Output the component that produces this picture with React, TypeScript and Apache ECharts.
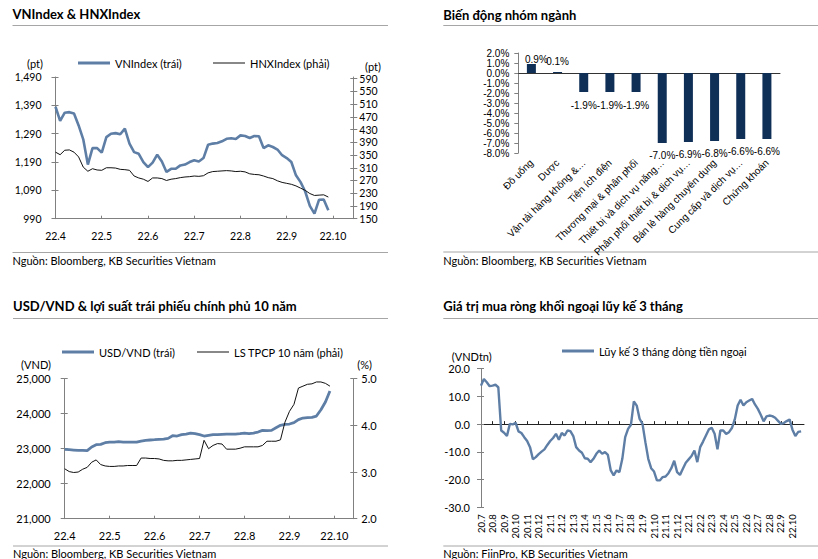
import React, { useEffect, useRef } from 'react';
import * as echarts from 'echarts';

// ---------- data ----------
const monthLabels6 = ['22.4', '22.5', '22.6', '22.7', '22.8', '22.9', '22.10'];

// VNIndex & HNXIndex, ~10 samples per month from 22.4
const vnIndex = [1385, 1335, 1364, 1366, 1361, 1319, 1270, 1181, 1239, 1239, 1223, 1278, 1290, 1292, 1288, 1308, 1255, 1225, 1219, 1190, 1172, 1188, 1216, 1192, 1155, 1166, 1166, 1178, 1181, 1190, 1196, 1192, 1204, 1251, 1255, 1257, 1263, 1272, 1274, 1271, 1284, 1282, 1275, 1282, 1281, 1239, 1249, 1243, 1234, 1214, 1204, 1190, 1143, 1119, 1086, 1035, 1008, 1057, 1058, 1020];
const hnxIndex = [359, 351, 365, 366, 359, 344, 312, 299, 307, 303, 302, 310, 310, 309, 305, 304, 302, 284, 278, 274, 267, 278, 278, 276, 270, 274, 276, 279, 281, 282, 284, 283, 285, 294, 298, 299, 300, 301, 300, 298, 299, 297, 291, 289, 288, 284, 279, 276, 269, 264, 261, 258, 253, 246, 239, 229, 223, 224, 225, 218];
const vnTicks = [990, 1090, 1190, 1290, 1390, 1490];
const hnxTicks = [150, 190, 230, 270, 310, 350, 390, 430, 470, 510, 550, 590];

// Sector performance
const sectors = ['Đồ uống', 'Dược', 'Vận tải hàng không &…', 'Tiện ích điện', 'Thương mại & phân phối', 'Thiết bị và dịch vụ năng…', 'Phân phối thiết bị & dịch vụ…', 'Bán lẻ hàng chuyên dụng', 'Cung cấp và dịch vụ…', 'Chứng khoán'];
const sectorChange = [0.9, 0.1, -1.9, -1.9, -1.9, -7.0, -6.9, -6.8, -6.6, -6.6];

// USD/VND & 10Y government bond yield
const usdVnd = [22980, 22971, 22962, 22952, 22952, 22943, 23048, 23114, 23124, 23171, 23190, 23190, 23200, 23190, 23190, 23190, 23190, 23219, 23238, 23248, 23257, 23267, 23276, 23295, 23371, 23362, 23400, 23419, 23448, 23429, 23400, 23362, 23381, 23400, 23400, 23410, 23419, 23419, 23419, 23429, 23448, 23429, 23448, 23476, 23524, 23514, 23524, 23600, 23667, 23695, 23705, 23743, 23829, 23876, 23886, 23895, 23933, 24114, 24333, 24650];
const bondYield = [3.07, 3.01, 2.99, 3.0, 3.06, 3.1, 3.21, 3.26, 3.16, 3.13, 3.12, 3.12, 3.13, 3.13, 3.14, 3.14, 3.14, 3.3, 3.3, 3.29, 3.29, 3.28, 3.25, 3.24, 3.24, 3.25, 3.25, 3.26, 3.27, 3.28, 3.29, 3.68, 3.5, 3.57, 3.61, 3.6, 3.49, 3.49, 3.49, 3.51, 3.54, 3.54, 3.54, 3.54, 3.57, 3.66, 3.66, 3.66, 3.69, 4.07, 4.3, 4.45, 4.8, 4.84, 4.88, 4.89, 4.93, 4.93, 4.9, 4.84];

// Foreign net buying, 3-month rolling, 4 samples per month from 20.7
const monthLabels28 = ['20.7', '20.8', '20.9', '20.10', '20.11', '20.12', '21.1', '21.2', '21.3', '21.4', '21.5', '21.6', '21.7', '21.8', '21.9', '21.10', '21.11', '21.12', '22.1', '22.2', '22.3', '22.4', '22.5', '22.6', '22.7', '22.8', '22.9', '22.10'];
const foreignFlow = [13.9, 16.3, 15.1, 13.7, 13.9, 14.2, 13.3, -2.3, -3.1, -4.3, 0.1, -0.1, 0.5, -2.6, -3.2, -4.7, -6.1, -8.3, -12.7, -11.9, -10.8, -9.9, -9.1, -7.5, -6.1, -5.0, -3.5, -5.6, -3.2, -4.1, -2.3, -2.5, -4.3, -8.3, -9.5, -10.3, -12.3, -12.5, -13.7, -12.5, -10.7, -9.5, -10.7, -10.1, -11.1, -16.7, -18.5, -16.7, -17.3, -12.5, -4.7, -1.7, -0.2, 8.2, 6.7, 1.9,
  0.1, -6.5, -12.5, -15.9, -17.1, -20.3, -20.3, -19.1, -18.9, -17.7, -15.9, -13.2, -17.3, -18.3, -16.1, -13.9, -12.7, -11.5, -9.5, -13.7, -8.3, -6.3, -4.1, -1.9, -1.3, -3.5, -9.1, -2.3, -2.3, -3.5, -2.9, -1.4, 1.7, 6.7, 8.8, 6.7, 7.9, 8.5, 9.1, 7.1, 5.5, 3.4, 1.0, 2.8, 3.1, 2.9, 2.3, 1.2, 0.1, 0.4, 1.1, 1.7, -2.0, -4.3, -2.8, -2.6];

// ---------- style ----------
const LATO = 'Lato';
const ARIAL = 'Liberation Sans';
const AX = '#808080';
const BLUE = '#5e7ea6';
const BAR = '#0f2f57';
const SEP = '#a6a6a6';

const SPM1 = 10; // samples per month, panels 1 & 3
const SPM4 = 4; // samples per month, panel 4

const monthTicks6 = monthLabels6.map((_, i) => i * SPM1);
const monthTicks28 = monthLabels28.map((_, i) => i * SPM4);

const fmtComma = (v: number) => Math.round(v).toLocaleString('en-US');

function hidden() {
  return { show: false };
}

function yDup(gridIndex: number, position: string, min: number, max: number, ticks: number[] | null, interval?: number) {
  const o: any = {
    type: 'value', gridIndex, position, min, max,
    axisLine: { show: false, onZero: false },
    axisTick: { show: true, inside: true, length: 3, lineStyle: { color: AX } },
    axisLabel: { show: false },
    splitLine: hidden(),
  };
  if (ticks) o.axisTick.customValues = ticks;
  if (interval) o.interval = interval;
  return o;
}

function textEl(text: string, x: number, y: number, size: number, bold = false, align = 'left', family = LATO) {
  return {
    type: 'text', x, y, silent: true,
    style: { text, fill: '#000', fontSize: size, fontFamily: family, fontWeight: bold ? 'bold' : 'normal', align, verticalAlign: 'middle' },
  };
}
function lineEl(x1: number, y1: number, x2: number, y2: number) {
  return { type: 'line', silent: true, shape: { x1, y1, x2, y2 }, style: { stroke: SEP, lineWidth: 1 } };
}

function legendOf(name: string, left: number, top: number, h: number, color: string) {
  return {
    data: [{ name, icon: 'rect', itemStyle: { color } }],
    left, top, padding: 0, itemWidth: 32, itemHeight: h, itemGap: 0,
    selectedMode: false,
    textStyle: { fontFamily: LATO, fontSize: 11, color: '#000', lineHeight: 12 },
  };
}

const option: any = {
  animation: false,
  backgroundColor: '#fff',
  legend: [
    legendOf('VNIndex (trái)', 78, 57, 3, BLUE),
    legendOf('HNXIndex (phải)', 213, 57, 1, '#111'),
    legendOf('USD/VND (trái)', 62, 346, 3, BLUE),
    legendOf('LS TPCP 10 năm (phải)', 197, 346, 1, '#111'),
    legendOf('Lũy kế 3 tháng dòng tiền ngoại', 562, 345, 3, BLUE),
  ],
  grid: [
    { left: 55.5, top: 77, right: 464.7, bottom: 340.3 },
    { left: 518.3, top: 53, right: 38, bottom: 406 },
    { left: 64.7, top: 378.7, right: 464.7, bottom: 40.3 },
    { left: 481, top: 368.7, right: 14, bottom: 51.7 },
  ],
  xAxis: [
    // 0: panel 1
    {
      type: 'value', gridIndex: 0, min: 0, max: 64.4, position: 'bottom',
      axisLine: { onZero: false, lineStyle: { color: AX } },
      axisTick: { inside: true, length: 3, lineStyle: { color: AX }, customValues: monthTicks6 },
      axisLabel: { customValues: monthTicks6, formatter: (v: number) => monthLabels6[Math.round(v / SPM1)] ?? '', fontFamily: LATO, fontSize: 10.5, color: '#000', margin: 12 },
      splitLine: hidden(),
    },
    // 1: panel 2 zero axis
    {
      type: 'category', gridIndex: 1, data: sectors, position: 'bottom',
      axisLine: { onZero: true, lineStyle: { color: '#333' } },
      axisTick: { inside: true, length: 3, lineStyle: { color: '#333' } },
      axisLabel: { show: false },
    },
    // 2: panel 2 label axis
    {
      type: 'category', gridIndex: 1, data: sectors, position: 'bottom',
      axisLine: { show: false, onZero: false },
      axisTick: { show: false },
      axisLabel: { interval: 0, rotate: 45, margin: 8, fontFamily: ARIAL, fontSize: 10, color: '#000' },
    },
    // 3: panel 3
    {
      type: 'value', gridIndex: 2, min: 0, max: 64.2, position: 'bottom',
      axisLine: { onZero: false, lineStyle: { color: AX } },
      axisTick: { inside: true, length: 3, lineStyle: { color: AX }, customValues: monthTicks6 },
      axisLabel: { customValues: monthTicks6, formatter: (v: number) => monthLabels6[Math.round(v / SPM1)] ?? '', fontFamily: LATO, fontSize: 11, color: '#000', margin: 11 },
      splitLine: hidden(),
    },
    // 4: panel 4 zero axis
    {
      type: 'value', gridIndex: 3, min: 0, max: 112, position: 'bottom',
      axisLine: { onZero: true, lineStyle: { color: '#222' } },
      axisTick: { inside: true, length: 3, lineStyle: { color: '#222' }, customValues: monthTicks28.slice(1) },
      axisLabel: { show: false },
      splitLine: hidden(),
    },
    // 5: panel 4 label axis
    {
      type: 'value', gridIndex: 3, min: 0, max: 112, position: 'bottom',
      axisLine: { show: false, onZero: false },
      axisTick: { show: false },
      axisLabel: { customValues: monthTicks28, rotate: 90, formatter: (v: number) => monthLabels28[Math.round(v / SPM4)] ?? '', fontFamily: LATO, fontSize: 9.5, color: '#000', margin: 7 },
      splitLine: hidden(),
    },
  ],
  yAxis: [
    // 0: VN left
    {
      type: 'value', gridIndex: 0, position: 'left', min: 990, max: 1490,
      axisLine: { show: true, onZero: false, lineStyle: { color: AX } },
      axisTick: { show: true, length: 4, lineStyle: { color: AX }, customValues: vnTicks },
      axisLabel: { customValues: vnTicks, formatter: fmtComma, fontFamily: LATO, fontSize: 10.5, color: '#000', margin: 14 },
      splitLine: hidden(),
    },
    // 1: HNX right
    {
      type: 'value', gridIndex: 0, position: 'right', min: 150, max: 595,
      axisLine: { show: true, onZero: false, lineStyle: { color: AX } },
      axisTick: { show: true, length: 4, lineStyle: { color: AX }, customValues: hnxTicks },
      axisLabel: { customValues: hnxTicks, fontFamily: LATO, fontSize: 10.5, color: '#000', margin: 6 },
      splitLine: hidden(),
    },
    yDup(0, 'left', 990, 1490, vnTicks),
    yDup(0, 'right', 150, 595, hnxTicks),
    // 4: sector pct
    {
      type: 'value', gridIndex: 1, position: 'left', min: -8, max: 2, interval: 1,
      axisLine: { show: true, onZero: false, lineStyle: { color: AX } },
      axisTick: { show: true, length: 4, lineStyle: { color: AX } },
      axisLabel: { formatter: (v: number) => v.toFixed(1) + '%', fontFamily: ARIAL, fontSize: 10, color: '#000', margin: 9 },
      splitLine: hidden(),
    },
    // 5: USD left
    {
      type: 'value', gridIndex: 2, position: 'left', min: 21000, max: 25000, interval: 1000,
      axisLine: { show: true, onZero: false, lineStyle: { color: AX } },
      axisTick: { show: true, length: 4, lineStyle: { color: AX } },
      axisLabel: { formatter: fmtComma, fontFamily: LATO, fontSize: 11, color: '#000', margin: 14 },
      splitLine: hidden(),
    },
    // 6: yield right
    {
      type: 'value', gridIndex: 2, position: 'right', min: 2, max: 5, interval: 1,
      axisLine: { show: true, onZero: false, lineStyle: { color: AX } },
      axisTick: { show: true, length: 4, lineStyle: { color: AX } },
      axisLabel: { formatter: (v: number) => v.toFixed(1), fontFamily: LATO, fontSize: 11, color: '#000', margin: 8 },
      splitLine: hidden(),
    },
    yDup(2, 'left', 21000, 25000, null, 1000),
    yDup(2, 'right', 2, 5, null, 1),
    // 9: foreign flow
    {
      type: 'value', gridIndex: 3, position: 'left', min: -30, max: 20, interval: 10,
      axisLine: { show: true, onZero: false, lineStyle: { color: AX } },
      axisTick: { show: true, length: 4, lineStyle: { color: AX } },
      axisLabel: { formatter: (v: number) => v.toFixed(1), fontFamily: LATO, fontSize: 11, color: '#000', margin: 11 },
      splitLine: hidden(),
    },
    yDup(3, 'left', -30, 20, null, 10),
  ],
  series: [
    {
      name: 'VNIndex (trái)', type: 'line', xAxisIndex: 0, yAxisIndex: 0,
      data: vnIndex.map((v, i) => [i, v]), showSymbol: false, symbol: 'none',
      lineStyle: { color: BLUE, width: 2.6 }, itemStyle: { color: BLUE },
    },
    {
      name: 'HNXIndex (phải)', type: 'line', xAxisIndex: 0, yAxisIndex: 1,
      data: hnxIndex.map((v, i) => [i, v]), showSymbol: false, symbol: 'none',
      lineStyle: { color: '#111', width: 1 }, itemStyle: { color: '#111' },
    },
    {
      name: 'sector', type: 'bar', xAxisIndex: 1, yAxisIndex: 4, barWidth: 9,
      itemStyle: { color: BAR },
      data: sectorChange.map((v, i) => ({
        value: v,
        label: {
          show: true,
          position: v >= 0 ? 'top' : 'bottom',
          distance: v >= 0 ? (i === 0 ? 0 : 6) : (v > -5 ? 8 : 7),
          offset: i === 0 ? [5, 0] : [0, 0],
        },
      })),
      label: { formatter: (p: any) => Number(p.value).toFixed(1) + '%', fontFamily: ARIAL, fontSize: 10, color: '#000' },
    },
    {
      name: 'USD/VND (trái)', type: 'line', xAxisIndex: 3, yAxisIndex: 5,
      data: usdVnd.map((v, i) => [i, v]), showSymbol: false, symbol: 'none',
      lineStyle: { color: BLUE, width: 2.8 }, itemStyle: { color: BLUE },
    },
    {
      name: 'LS TPCP 10 năm (phải)', type: 'line', xAxisIndex: 3, yAxisIndex: 6,
      data: bondYield.map((v, i) => [i, v]), showSymbol: false, symbol: 'none',
      lineStyle: { color: '#111', width: 1 }, itemStyle: { color: '#111' },
    },
    {
      name: 'Lũy kế 3 tháng dòng tiền ngoại', type: 'line', xAxisIndex: 4, yAxisIndex: 9,
      data: foreignFlow.map((v, i) => [i, v]), showSymbol: false, symbol: 'none',
      lineStyle: { color: BLUE, width: 2.4 }, itemStyle: { color: BLUE },
    },
  ],
  graphic: [
    textEl('VNIndex & HNXIndex', 12.5, 14, 13, true),
    lineEl(12.5, 25.5, 388, 25.5),
    textEl('(pt)', 35, 63, 11, false, 'center'),
    textEl('(pt)', 373, 66.5, 11, false, 'center'),
    lineEl(12.5, 252.5, 388, 252.5),
    textEl('Nguồn: Bloomberg, KB Securities Vietnam', 12.5, 260.5, 11),

    textEl('Biến động nhóm ngành', 443.3, 15, 13, true),
    lineEl(443.3, 25.5, 818, 25.5),
    lineEl(443.3, 252, 818, 252),
    textEl('Nguồn: Bloomberg, KB Securities Vietnam', 443.3, 260.5, 11),

    textEl('USD/VND & lợi suất trái phiếu chính phủ 10 năm', 13, 306, 13, true),
    lineEl(13, 318.5, 388, 318.5),
    textEl('(VND)', 36, 364, 11, false, 'center'),
    textEl('(%)', 364.7, 364, 11, false, 'center'),
    lineEl(13, 546, 388, 546),
    textEl('Nguồn: Bloomberg, KB Securities Vietnam', 13, 553, 11),

    textEl('Giá trị mua ròng khối ngoại lũy kế 3 tháng', 443.3, 306, 13, true),
    lineEl(443.3, 318.5, 818, 318.5),
    textEl('(VNDtn)', 471.7, 356, 11, false, 'center'),
    lineEl(443.3, 546, 818, 546),
    textEl('Nguồn: FiinPro, KB Securities Vietnam', 443.3, 553, 11),
  ],
};

export default function App() {
  const ref = useRef<HTMLDivElement>(null);
  useEffect(() => {
    if (!ref.current) return;
    const chart = echarts.init(ref.current, null, { renderer: 'svg' });
    chart.setOption(option);
    return () => chart.dispose();
  }, []);
  return (
    <div
      ref={ref}
      style={{ position: 'absolute', left: 0, top: 0, width: 818, height: 559, background: '#fff' }}
    />
  );
}
